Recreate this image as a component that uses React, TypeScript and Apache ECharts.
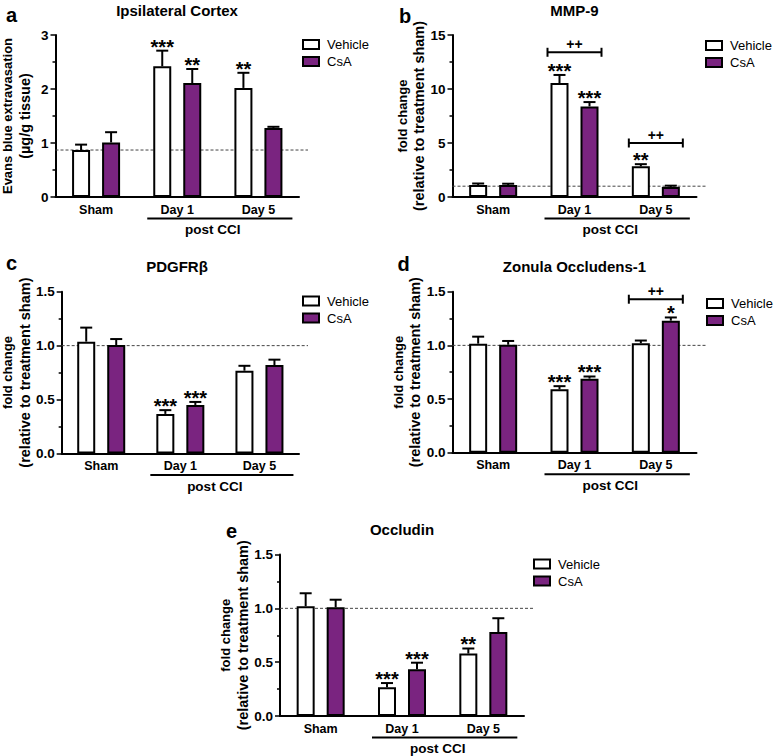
import React, { useEffect, useRef } from 'react';
import * as echarts from 'echarts';

// ---------- data ----------
const categories = ['Sham', 'Day 1', 'Day 5'];
const groupLabel = 'post CCI';
const groupFrom = 1;
const groupTo = 2;
const vehicleName = 'Vehicle';
const csaName = 'CsA';

// a: Ipsilateral Cortex
const aTitle = 'Ipsilateral Cortex';
const aYName = ['Evans blue extravasation', '(µg/g tissue)'];
const aYTicks = [0, 1, 2, 3];
const aVehicle = [0.87, 2.42, 2.02];
const aVehicleErr = [0.1, 0.29, 0.28];
const aCsA = [1.01, 2.11, 1.28];
const aCsAErr = [0.19, 0.26, 0.02];
const aVehicleStars = ['', '***', '**'];
const aCsAStars = ['', '**', ''];
const aBaseline = 0.87;
const aBrackets: { cat: number; y: number; text: string }[] = [];

// b: MMP-9
const bTitle = 'MMP-9';
const bYName = ['fold change', '(relative to treatment sham)'];
const bYTicks = [0, 5, 10, 15];
const bVehicle = [1.1, 10.55, 2.84];
const bVehicleErr = [0.15, 0.75, 0.2];
const bCsA = [1.1, 8.39, 0.93];
const bCsAErr = [0.13, 0.4, 0.12];
const bVehicleStars = ['', '***', '**'];
const bCsAStars = ['', '***', ''];
const bBaseline = 1.0;
const bBrackets = [
  { cat: 1, y: 13.4, text: '++' },
  { cat: 2, y: 5.0, text: '++' },
];

// c: PDGFRβ
const cTitle = 'PDGFRβ';
const cYName = ['fold change', '(relative to treatment sham)'];
const cYTicks = [0, 0.5, 1.0, 1.5];
const cVehicle = [1.037, 0.367, 0.768];
const cVehicleErr = [0.13, 0.035, 0.045];
const cCsA = [1.006, 0.45, 0.82];
const cCsAErr = [0.055, 0.028, 0.05];
const cVehicleStars = ['', '***', ''];
const cCsAStars = ['', '***', ''];
const cBaseline = 1.0;
const cBrackets: { cat: number; y: number; text: string }[] = [];

// d: Zonula Occludens-1
const dTitle = 'Zonula Occludens-1';
const dYName = ['fold change', '(relative to treatment sham)'];
const dYTicks = [0, 0.5, 1.0, 1.5];
const dVehicle = [1.016, 0.59, 1.02];
const dVehicleErr = [0.065, 0.03, 0.025];
const dCsA = [1.006, 0.69, 1.23];
const dCsAErr = [0.035, 0.02, 0.03];
const dVehicleStars = ['', '***', ''];
const dCsAStars = ['', '***', '*'];
const dBaseline = 1.0;
const dBrackets = [{ cat: 2, y: 1.43, text: '++' }];

// e: Occludin
const eTitle = 'Occludin';
const eYName = ['fold change', '(relative to treatment sham)'];
const eYTicks = [0, 0.5, 1.0, 1.5];
const eVehicle = [1.02, 0.266, 0.58];
const eVehicleErr = [0.12, 0.04, 0.047];
const eCsA = [1.01, 0.434, 0.78];
const eCsAErr = [0.07, 0.061, 0.128];
const eVehicleStars = ['', '***', '**'];
const eCsAStars = ['', '***', ''];
const eBaseline = 1.0;
const eBrackets: { cat: number; y: number; text: string }[] = [];

const panels = [
  { letter: 'a', title: aTitle, yName: aYName, yTicks: aYTicks, decimals: 0, vehicle: aVehicle, vehicleErr: aVehicleErr, csa: aCsA, csaErr: aCsAErr, vehicleStars: aVehicleStars, csaStars: aCsAStars, baseline: aBaseline, brackets: aBrackets },
  { letter: 'b', title: bTitle, yName: bYName, yTicks: bYTicks, decimals: 0, vehicle: bVehicle, vehicleErr: bVehicleErr, csa: bCsA, csaErr: bCsAErr, vehicleStars: bVehicleStars, csaStars: bCsAStars, baseline: bBaseline, brackets: bBrackets },
  { letter: 'c', title: cTitle, yName: cYName, yTicks: cYTicks, decimals: 1, vehicle: cVehicle, vehicleErr: cVehicleErr, csa: cCsA, csaErr: cCsAErr, vehicleStars: cVehicleStars, csaStars: cCsAStars, baseline: cBaseline, brackets: cBrackets },
  { letter: 'd', title: dTitle, yName: dYName, yTicks: dYTicks, decimals: 1, vehicle: dVehicle, vehicleErr: dVehicleErr, csa: dCsA, csaErr: dCsAErr, vehicleStars: dVehicleStars, csaStars: dCsAStars, baseline: dBaseline, brackets: dBrackets },
  { letter: 'e', title: eTitle, yName: eYName, yTicks: eYTicks, decimals: 1, vehicle: eVehicle, vehicleErr: eVehicleErr, csa: eCsA, csaErr: eCsAErr, vehicleStars: eVehicleStars, csaStars: eCsAStars, baseline: eBaseline, brackets: eBrackets },
];

// ---------- layout & style ----------
const FONT = '"Liberation Sans", Arial, Helvetica, sans-serif';
const PURPLE = '#7A2480';
const GRID_W = 244;
const BAR_W = 18;
const BAR_OFFSET = 15;
const layout = [
  { left: 55, top: 35, height: 162, letterX: 6, letterY: 25, legendLeft: 302, legendTop: 38 },
  { left: 452.5, top: 35, height: 162, letterX: 399, letterY: 26, legendLeft: 705, legendTop: 39 },
  { left: 55, top: 291.7, height: 161.8, letterX: 6, letterY: 273, legendLeft: 302, legendTop: 294.5 },
  { left: 452.5, top: 291.7, height: 161, letterX: 397.5, letterY: 274, legendLeft: 706, legendTop: 297 },
  { left: 280, top: 554.5, height: 161.5, letterX: 226, letterY: 541, legendLeft: 533, legendTop: 557.5 },
];

function buildOption() {
  const grid = layout.map((l) => ({ left: l.left, top: l.top, width: GRID_W, height: l.height, containLabel: false }));

  const xAxis = panels.map((_, i) => ({
    type: 'category',
    gridIndex: i,
    data: categories,
    axisLine: { lineStyle: { color: '#000', width: 2 } },
    axisTick: { alignWithLabel: true, length: 4, lineStyle: { color: '#000', width: 1.5 } },
    axisLabel: { color: '#000', fontWeight: 'bold', fontSize: 12.5, fontFamily: FONT, margin: 6 },
    splitLine: { show: false },
  }));

  const yAxis = panels.map((p, i) => ({
    type: 'value',
    gridIndex: i,
    min: p.yTicks[0],
    max: p.yTicks[p.yTicks.length - 1],
    interval: p.yTicks[1] - p.yTicks[0],
    name: '{l1|' + p.yName[0] + '}\n{l2|' + p.yName[1] + '}',
    nameLocation: 'middle',
    nameRotate: 90,
    nameGap: 22.5,
    nameTextStyle: {
      color: '#000',
      fontWeight: 'bold',
      fontFamily: FONT,
      rich: {
        l1: { fontSize: 13, fontWeight: 'bold', fontFamily: FONT, color: '#000', lineHeight: 17 },
        l2: { fontSize: 14.5, fontWeight: 'bold', fontFamily: FONT, color: '#000', lineHeight: 17 },
      },
    },
    axisLine: { show: true, lineStyle: { color: '#000', width: 2 } },
    axisTick: { show: true, length: 5, lineStyle: { color: '#000', width: 1.5 } },
    minorTick: { show: true, splitNumber: 2, length: 3, lineStyle: { color: '#000', width: 1.5 } },
    splitLine: { show: false },
    minorSplitLine: { show: false },
    axisLabel: {
      color: '#000',
      fontWeight: 'bold',
      fontSize: 13.5,
      fontFamily: FONT,
      margin: 7,
      formatter: (v: number) => v.toFixed(p.decimals),
    },
  }));

  const series: any[] = [];
  panels.forEach((p, i) => {
    // dashed reference line (behind bars)
    series.push({
      type: 'custom',
      name: 'ref' + i,
      xAxisIndex: i,
      yAxisIndex: i,
      z: 1,
      silent: true,
      clip: false,
      encode: { x: 0, y: 1 },
      data: [[0, p.baseline]],
      renderItem: (params: any, api: any) => {
        const y = api.coord([0, api.value(1)])[1];
        const cs = params.coordSys;
        return {
          type: 'line',
          shape: { x1: cs.x, y1: y, x2: cs.x + cs.width + 9, y2: y },
          style: { stroke: '#444', lineWidth: 1, lineDash: [3, 2] },
        };
      },
    });

    const groups = [
      { name: vehicleName, vals: p.vehicle, errs: p.vehicleErr, stars: p.vehicleStars, color: '#ffffff', off: -BAR_OFFSET },
      { name: csaName, vals: p.csa, errs: p.csaErr, stars: p.csaStars, color: PURPLE, off: BAR_OFFSET },
    ];
    groups.forEach((g) => {
      series.push({
        type: 'bar',
        name: g.name,
        xAxisIndex: i,
        yAxisIndex: i,
        z: 2,
        barWidth: BAR_W,
        barGap: '66.7%',
        silent: true,
        data: g.vals,
        itemStyle: { color: g.color, borderColor: '#000', borderWidth: 2 },
      });
    });
    groups.forEach((g) => {
      series.push({
        type: 'custom',
        name: g.name + ' SEM',
        xAxisIndex: i,
        yAxisIndex: i,
        z: 3,
        silent: true,
        clip: false,
        encode: { x: 0, y: 1 },
        data: g.vals.map((v, k) => [k, v, g.errs[k]]),
        renderItem: (params: any, api: any) => {
          const cat = api.value(0);
          const mean = api.value(1);
          const err = api.value(2);
          const base = api.coord([cat, mean]);
          const top = api.coord([cat, mean + err]);
          const x = base[0] + g.off;
          const children: any[] = [];
          if (err > 0) {
            children.push({
              type: 'line',
              shape: { x1: x, y1: base[1], x2: x, y2: top[1] },
              style: { stroke: '#000', lineWidth: 2 },
            });
            children.push({
              type: 'line',
              shape: { x1: x - 6, y1: top[1], x2: x + 6, y2: top[1] },
              style: { stroke: '#000', lineWidth: 2 },
            });
          }
          const s = g.stars[params.dataIndex];
          if (s) {
            children.push({
              type: 'text',
              style: {
                text: s,
                x: x,
                y: top[1] - 4,
                align: 'center',
                verticalAlign: 'middle',
                fill: '#000',
                font: 'bold 20px ' + FONT,
              },
            });
          }
          return { type: 'group', children };
        },
      });
    });

    if (p.brackets.length) {
      series.push({
        type: 'custom',
        name: 'brackets' + i,
        xAxisIndex: i,
        yAxisIndex: i,
        z: 3,
        silent: true,
        clip: false,
        encode: { x: 0, y: 1 },
        data: p.brackets.map((b) => [b.cat, b.y]),
        renderItem: (params: any, api: any) => {
          const c = api.coord([api.value(0), api.value(1)]);
          const x1 = c[0] - 27;
          const x2 = c[0] + 27;
          const y = c[1];
          return {
            type: 'group',
            children: [
              { type: 'line', shape: { x1, y1: y, x2, y2: y }, style: { stroke: '#000', lineWidth: 2 } },
              { type: 'line', shape: { x1, y1: y - 4.5, x2: x1, y2: y + 4.5 }, style: { stroke: '#000', lineWidth: 2 } },
              { type: 'line', shape: { x1: x2, y1: y - 4.5, x2: x2, y2: y + 4.5 }, style: { stroke: '#000', lineWidth: 2 } },
              {
                type: 'text',
                style: {
                  text: p.brackets[params.dataIndex].text,
                  x: c[0],
                  y: y - 8,
                  align: 'center',
                  verticalAlign: 'middle',
                  fill: '#000',
                  font: 'bold 14px ' + FONT,
                },
              },
            ],
          };
        },
      });
    }

    // post CCI grouping line
    series.push({
      type: 'custom',
      name: 'group' + i,
      xAxisIndex: i,
      yAxisIndex: i,
      z: 3,
      silent: true,
      clip: false,
      encode: { x: 0, y: 1 },
      data: [[groupFrom, 0, groupTo]],
      renderItem: (params: any, api: any) => {
        const cs = params.coordSys;
        const xa = api.coord([api.value(0), 0])[0] - 30;
        const xb = api.coord([api.value(2), 0])[0] + 34;
        const y = cs.y + cs.height + 21.5;
        return {
          type: 'group',
          children: [
            { type: 'line', shape: { x1: xa, y1: y, x2: xb, y2: y }, style: { stroke: '#000', lineWidth: 2 } },
            {
              type: 'text',
              style: {
                text: groupLabel,
                x: (xa + xb) / 2 - 7,
                y: y + 11,
                align: 'center',
                verticalAlign: 'middle',
                fill: '#000',
                font: 'bold 13.5px ' + FONT,
              },
            },
          ],
        };
      },
    });
  });

  const legend = layout.map((l) => ({
    orient: 'vertical',
    left: l.legendLeft,
    top: l.legendTop,
    padding: 0,
    itemWidth: 16,
    itemHeight: 9,
    itemGap: 4,
    selectedMode: false,
    icon: 'rect',
    textStyle: { fontSize: 13, color: '#000', fontFamily: FONT, padding: [0, 0, 0, 3] },
    data: [
      { name: vehicleName, itemStyle: { color: '#ffffff', borderColor: '#000', borderWidth: 2 } },
      { name: csaName, itemStyle: { color: PURPLE, borderColor: '#000', borderWidth: 2 } },
    ],
  }));

  const graphic: any[] = [];
  panels.forEach((p, i) => {
    const l = layout[i];
    graphic.push({
      type: 'text',
      silent: true,
      style: {
        text: p.title,
        x: l.left + GRID_W / 2,
        y: l.top - 25,
        align: 'center',
        verticalAlign: 'middle',
        fill: '#000',
        font: 'bold 15px ' + FONT,
      },
    });
    graphic.push({
      type: 'text',
      silent: true,
      style: {
        text: p.letter,
        x: l.letterX,
        y: l.letterY,
        align: 'left',
        verticalAlign: 'bottom',
        fill: '#000',
        font: 'bold 20px ' + FONT,
      },
    });
  });

  return {
    animation: false,
    backgroundColor: '#fff',
    textStyle: { fontFamily: FONT },
    grid,
    xAxis,
    yAxis,
    legend,
    series,
    graphic,
  };
}

export default function App() {
  const ref = useRef<HTMLDivElement>(null);
  useEffect(() => {
    if (!ref.current) return;
    const chart = echarts.init(ref.current, undefined, { renderer: 'svg' });
    chart.setOption(buildOption() as any);
    return () => chart.dispose();
  }, []);
  return (
    <div
      ref={ref}
      style={{ position: 'absolute', left: 0, top: 0, width: 778, height: 756, background: '#fff' }}
    />
  );
}
